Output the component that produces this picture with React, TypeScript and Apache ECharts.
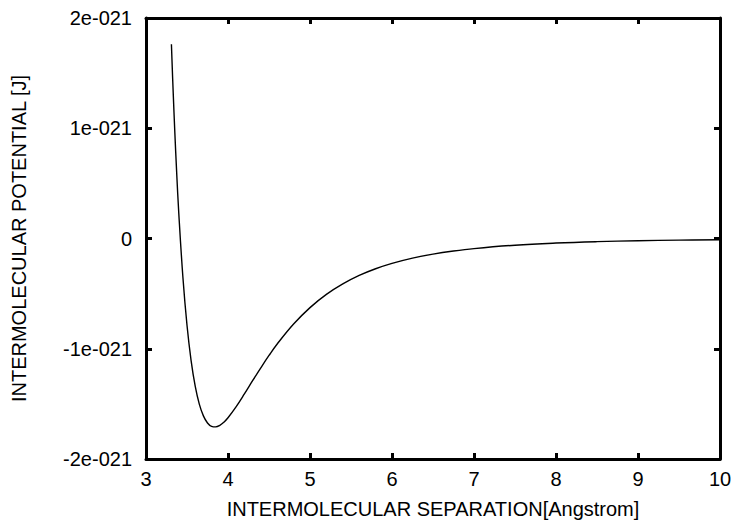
import React, { useEffect, useRef } from "react";
import * as echarts from "echarts";

// Intermolecular separation [Angstrom]
const separation = [
  3.31, 3.32, 3.33, 3.35, 3.375, 3.4, 3.45, 3.5, 3.55, 3.6, 3.65, 3.7, 3.75,
  3.8, 3.85, 3.9, 3.95, 4.0, 4.1, 4.2, 4.3, 4.4, 4.5, 4.6, 4.8, 5.0, 5.2, 5.4,
  5.6, 5.8, 6.0, 6.25, 6.5, 6.75, 7.0, 7.5, 8.0, 8.5, 9.0, 9.5, 10.0,
];
// Intermolecular potential, in units of 1e-21 J
const potential = [
  1.762, 1.553, 1.355, 0.989, 0.583, 0.2275, -0.352, -0.787, -1.108, -1.34,
  -1.502, -1.609, -1.673, -1.704, -1.709, -1.695, -1.666, -1.626, -1.525, -1.41,
  -1.29, -1.173, -1.061, -0.957, -0.776, -0.627, -0.507, -0.412, -0.335,
  -0.2745, -0.2258, -0.178, -0.1415, -0.1134, -0.0914, -0.0607, -0.0414,
  -0.0288, -0.0205, -0.0148, -0.0109,
];
const yTickLabels: Record<string, string> = {
  "2": "2e-021",
  "1": "1e-021",
  "0": "0",
  "-1": "-1e-021",
  "-2": "-2e-021",
};

const FONT = "'Liberation Sans', Arial, sans-serif";

export default function App() {
  const ref = useRef<HTMLDivElement>(null);
  useEffect(() => {
    if (!ref.current) return;
    const chart = echarts.init(ref.current, undefined, { renderer: "svg" });
    const axisLine = { show: true, onZero: false, lineStyle: { color: "#000", width: 3 } };
    const tick = { show: true, inside: true, length: 6, lineStyle: { color: "#000", width: 3 } };
    const xBase = { type: "value" as const, min: 3, max: 10, interval: 1, splitLine: { show: false } };
    const yBase = { type: "value" as const, min: -2, max: 2, interval: 1, splitLine: { show: false } };
    chart.setOption({
      animation: false,
      backgroundColor: "#fff",
      grid: { left: 146, right: 19, top: 18, bottom: 64, containLabel: false },
      xAxis: [
        {
          ...xBase,
          position: "bottom",
          axisLine,
          axisTick: tick,
          axisLabel: { color: "#000", fontSize: 20, fontFamily: FONT, margin: 10 },
          name: "INTERMOLECULAR SEPARATION[Angstrom]",
          nameLocation: "middle",
          nameGap: 40,
          nameTextStyle: { color: "#000", fontSize: 20, fontFamily: FONT },
        },
        {
          ...xBase,
          position: "top",
          axisLine,
          axisTick: tick,
          axisLabel: { show: false },
        },
      ],
      yAxis: [
        {
          ...yBase,
          position: "left",
          axisLine,
          axisTick: tick,
          axisLabel: {
            color: "#000",
            fontSize: 20,
            fontFamily: FONT,
            margin: 14,
            formatter: (v: number) => yTickLabels[String(Math.round(v))] ?? String(v),
          },
          name: "INTERMOLECULAR POTENTIAL [J]",
          nameLocation: "middle",
          nameGap: 117,
          nameTextStyle: { color: "#000", fontSize: 20, fontFamily: FONT },
        },
        {
          ...yBase,
          position: "right",
          axisLine,
          axisTick: tick,
          axisLabel: { show: false },
        },
      ],
      series: [
        {
          type: "line",
          xAxisIndex: 0,
          yAxisIndex: 0,
          data: separation.map((x, i) => [x, potential[i]]),
          showSymbol: false,
          smooth: 0.4,
          lineStyle: { color: "#000", width: 1.4 },
          clip: true,
        },
      ],
    });
    return () => chart.dispose();
  }, []);
  return (
    <div
      ref={ref}
      style={{ position: "fixed", left: 0, top: 0, width: 739, height: 524, background: "#fff" }}
    />
  );
}
